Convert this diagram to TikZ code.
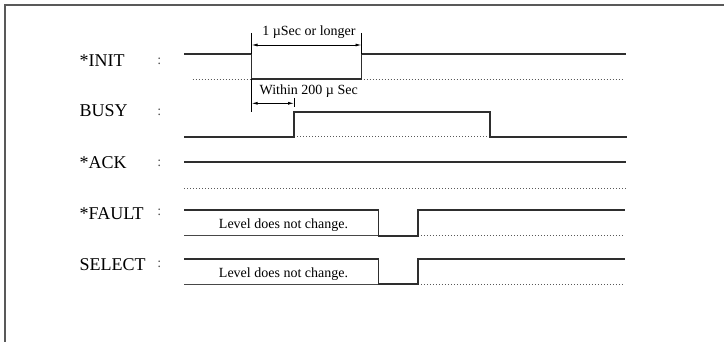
\documentclass[tikz,border=0pt]{standalone}
\usepackage{fontspec}
\setmainfont{Liberation Serif}
\usetikzlibrary{arrows.meta}
\begin{document}
\begin{tikzpicture}[x=1pt,y=-1pt,
 sig/.style={line width=1.7pt,draw=black!82,line join=miter},
 base/.style={line width=1.1pt,draw=black!72},
 ref/.style={line width=0.9pt,draw=black!65,dash pattern=on 1.4pt off 1.6pt},
 lbl/.style={anchor=base west,inner sep=0pt,font=\fontsize{18}{20}\selectfont},
 colon/.style={anchor=base,inner sep=0pt,font=\fontsize{14}{16}\selectfont,text=black!70},
 note/.style={anchor=base,inner sep=0pt,font=\fontsize{14}{16}\selectfont},
 dim/.style={line width=0.8pt,{Latex[length=6pt,width=3pt]}-{Latex[length=6pt,width=3pt]}},
 ext/.style={line width=0.8pt}]
\useasboundingbox (0,0) rectangle (724,342);
\draw[line width=1.5pt,draw=black!65] (5,342) -- (5,5) -- (724,5);

% labels
\node[lbl] (linit) at (79.4,66.5) {*INIT};
\node[lbl] (lbusy) at (79.4,117) {BUSY};
\node[lbl] (lack) at (79.4,168.5) {*ACK};
\node[lbl] (lfault) at (79.4,219.5) {*FAULT};
\node[lbl] (lsel) at (79.4,271) {SELECT};
\node[colon] (cinit) at (159.3,65) {:};
\node[colon] (cbusy) at (159.3,115.5) {:};
\node[colon] (cack) at (159.3,167) {:};
\node[colon] (cfault) at (159.3,216) {:};
\node[colon] (csel) at (159.3,267.5) {:};

% INIT
\coordinate (i0) at (184,54.3);
\coordinate (i1) at (251.6,54.3);
\coordinate (i2) at (251.6,79.3);
\coordinate (i3) at (361.5,79.3);
\coordinate (i4) at (361.5,54.3);
\coordinate (i5) at (625.6,54.3);
\coordinate (ir0) at (192.5,79.3);
\coordinate (ir1) at (622,79.3);
\draw[ref] (ir0) -- (ir1);
\draw[sig] (i0) -- (i1) -- (i2) -- (i3) -- (i4) -- (i5);

% dimension 1
\coordinate (e1) at (251.6,33);
\coordinate (e2) at (361.5,33);
\coordinate (a1) at (251.6,45);
\coordinate (a2) at (361.5,45);
\draw[ext] (e1) -- (i1);
\draw[ext] (e2) -- (i4);
\draw[dim] (a1) -- (a2);
\node[note] (t1) at (309,36) {1 µSec or longer};

% BUSY
\coordinate (b0) at (184,136.7);
\coordinate (b1) at (294,136.7);
\coordinate (b2) at (294,112.3);
\coordinate (b3) at (490.3,112.3);
\coordinate (b4) at (490.3,136.7);
\coordinate (b5) at (626.5,136.7);
\coordinate (br1) at (535.5,136.7);
\draw[ref] (b1) -- (br1);
\draw[sig] (b0) -- (b1) -- (b2) -- (b3) -- (b4) -- (b5);

% dimension 2
\coordinate (e3) at (251.6,111.7);
\coordinate (e4a) at (294,98);
\coordinate (e4b) at (294,107);
\coordinate (a3) at (251.6,103.3);
\coordinate (a4) at (294,103.3);
\draw[ext] (i2) -- (e3);
\draw[ext] (e4a) -- (e4b);
\draw[dim] (a3) -- (a4);
\node[note] (t2) at (308.7,95) {Within 200 µ Sec};

% ACK
\coordinate (k0) at (184,162.3);
\coordinate (k1) at (626,162.3);
\coordinate (kr0) at (184,188.3);
\coordinate (kr1) at (626,188.3);
\draw[sig] (k0) -- (k1);
\draw[ref] (kr0) -- (kr1);

% FAULT
\coordinate (f0) at (184,210);
\coordinate (f1) at (378.6,210);
\coordinate (f2) at (378.6,235.7);
\coordinate (f3) at (417.8,235.7);
\coordinate (f4) at (417.8,210);
\coordinate (f5) at (624.7,210);
\coordinate (fb0) at (184,235.7);
\coordinate (fr1) at (624.7,235.7);
\draw[base] (fb0) -- (f2);
\draw[ref] (f3) -- (fr1);
\draw[sig] (f0) -- (f1) -- (f2) -- (f3) -- (f4) -- (f5);
\node[note] (tf) at (283.5,228.3) {Level does not change.};

% SELECT
\coordinate (s0) at (184,258.7);
\coordinate (s1) at (378.6,258.7);
\coordinate (s2) at (378.6,284.3);
\coordinate (s3) at (417.8,284.3);
\coordinate (s4) at (417.8,258.7);
\coordinate (s5) at (624.7,258.7);
\coordinate (sb0) at (184,284.3);
\coordinate (sr1) at (624.7,284.3);
\draw[base] (sb0) -- (s2);
\draw[ref] (s3) -- (sr1);
\draw[sig] (s0) -- (s1) -- (s2) -- (s3) -- (s4) -- (s5);
\node[note] (ts) at (283.5,277) {Level does not change.};
\end{tikzpicture}
\end{document}
